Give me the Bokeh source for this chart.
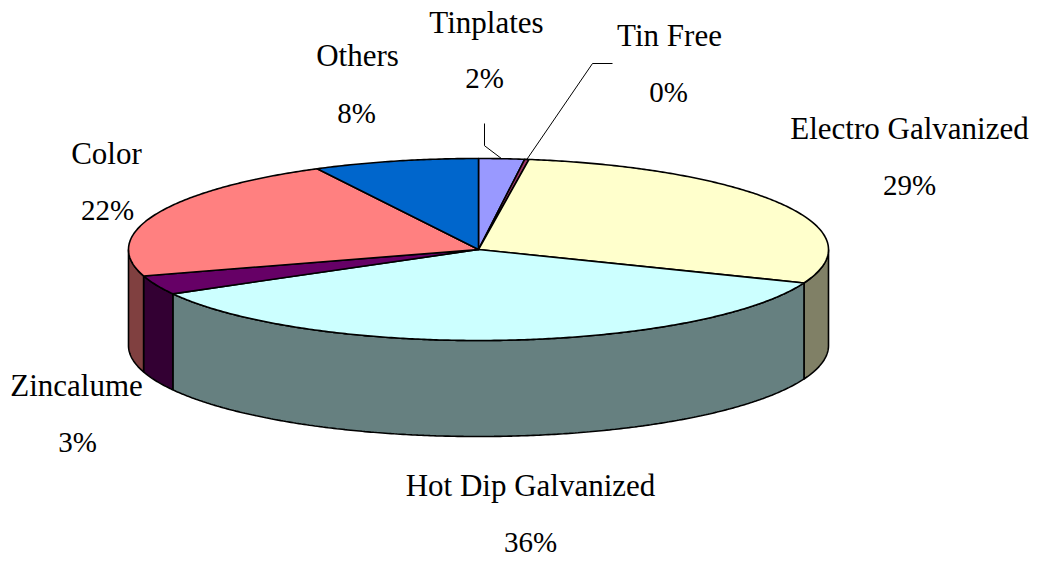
import numpy as np
from bokeh.plotting import figure
from bokeh.models import Range1d, ColumnDataSource
from bokeh.core.properties import value
from bokeh.embed import file_html
from bokeh.resources import INLINE

# ---- data ----
categories = ["Tinplates", "Tin Free", "Electro Galvanized", "Hot Dip Galvanized",
              "Zincalume", "Color", "Others"]
shares = [2.1, 0.2, 28.6, 35.8, 3.4, 22.0, 7.6]
top_colors = ["#9999FF", "#993366", "#FFFFCC", "#CCFFFF", "#660066", "#FF8080", "#0066CC"]
side_colors = ["#4D4D80", "#4D1A33", "#808066", "#668080", "#330033", "#804040", "#003366"]

# ---- layout (page pixel coordinates; y = text middle) ----
CX, CY, RX, RY, DEPTH = 478, 249, 350, 91, 96
name_xy = [(486, 22), (669, 35), (909, 128), (530, 485), (76, 385), (106, 153), (357, 55)]
pct_xy = [(484, 77), (668, 91), (909, 184), (530, 541), (77, 441), (107, 209), (356, 112)]

total = sum(shares)
fr = np.array(shares) / total
ends = np.cumsum(fr) * 360.0
starts = ends - fr * 360.0


def ex(a):
    return CX + RX * np.sin(np.radians(a))


def ey(a):
    return CY - RY * np.cos(np.radians(a))


p = figure(width=1040, height=562, x_range=Range1d(0, 1040), y_range=Range1d(562, 0),
           output_backend="svg", toolbar_location=None, min_border=0,
           x_axis_type=None, y_axis_type=None)
p.grid.visible = False
p.outline_line_color = None
p.background_fill_color = "white"

# walls (front half only: 90..270 degrees)
wx, wy, wc = [], [], []
for a0, a1, c in zip(starts, ends, side_colors):
    b0, b1 = max(a0, 90.0), min(a1, 270.0)
    if b1 <= b0:
        continue
    t = np.linspace(b0, b1, max(int((b1 - b0) * 2) + 2, 2))
    xs = list(ex(t)) + list(ex(t[::-1]))
    ys = list(ey(t)) + list(ey(t[::-1]) + DEPTH)
    wx.append(xs); wy.append(ys); wc.append(c)
p.patches(xs="xs", ys="ys", fill_color="c", line_color="black", line_width=1.6,
          source=ColumnDataSource(dict(xs=wx, ys=wy, c=wc)))

# top faces
tx, ty = [], []
for a0, a1 in zip(starts, ends):
    t = np.linspace(a0, a1, max(int((a1 - a0) * 2) + 2, 2))
    tx.append([CX] + list(ex(t)))
    ty.append([CY] + list(ey(t)))
p.patches(xs="xs", ys="ys", fill_color="c", line_color="black", line_width=1.6,
          line_join="round",
          source=ColumnDataSource(dict(xs=tx, ys=ty, c=top_colors)))

# leader lines for the two small slices
mid0 = (starts[0] + ends[0]) / 2
p.line([ex(mid0), name_xy[0][0] - 2, name_xy[0][0] - 2],
       [ey(mid0), ey(mid0) - 13, pct_xy[0][1] + 46], line_color="black", line_width=1)
mid1 = (starts[1] + ends[1]) / 2
ly = name_xy[1][1] + 28
p.line([ex(mid1), name_xy[1][0] - 77, name_xy[1][0] - 57],
       [ey(mid1), ly, ly], line_color="black", line_width=1)

# labels
names_src = ColumnDataSource(dict(x=[q[0] for q in name_xy], y=[q[1] for q in name_xy],
                                  t=categories))
pct_src = ColumnDataSource(dict(x=[q[0] for q in pct_xy], y=[q[1] for q in pct_xy],
                                t=[f"{round(v * 100):d}%" for v in fr]))
p.text(x="x", y="y", text="t", source=names_src, text_font=value("Liberation Serif"),
       text_font_size="31px", text_align="center", text_baseline="middle",
       text_color="black")
p.text(x="x", y="y", text="t", source=pct_src, text_font=value("Liberation Serif"),
       text_font_size="29px", text_align="center", text_baseline="middle",
       text_color="black")

open("out.html", "w").write(file_html(p, INLINE))
